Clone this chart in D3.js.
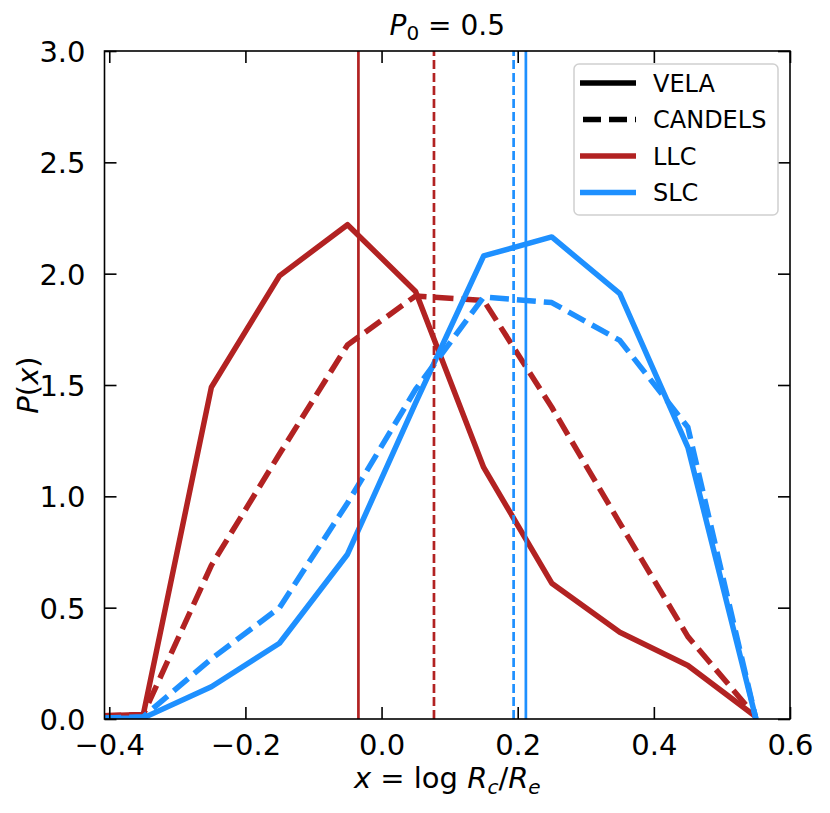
<!DOCTYPE html>
<html>
<head>
<meta charset="utf-8">
<script src="https://cdn.jsdelivr.net/npm/d3@7"></script>
<style>
  body { margin: 0; background: #fff; }
  text { font-family: "DejaVu Sans", sans-serif; fill: #000; }
</style>
</head>
<body>
<div id="chart"></div>
<script>
// bin centres of log Rc/Re
const binCenters = [-0.45, -0.35, -0.25, -0.15, -0.05, 0.05, 0.15, 0.25, 0.35, 0.45, 0.55];

// P(x)
const velaLLC = [0.01, 0.02, 1.49, 1.99, 2.22, 1.92, 1.13, 0.61, 0.39, 0.24, 0.01];
const candelsLLC = [0.01, 0.02, 0.69, 1.19, 1.68, 1.90, 1.88, 1.40, 0.88, 0.37, 0.01];
const velaSLC = [0.0, 0.005, 0.145, 0.34, 0.74, 1.42, 2.08, 2.165, 1.91, 1.22, 0.0];
const candelsSLC = [0.0, 0.01, 0.27, 0.5, 0.97, 1.48, 1.895, 1.87, 1.7, 1.31, 0.0];

// mean values (vertical lines)
const meanVelaLLC = -0.034;
const meanCandelsLLC = 0.077;
const meanCandelsSLC = 0.194;
const meanVelaSLC = 0.212;

const xTicks = [-0.4, -0.2, 0.0, 0.2, 0.4, 0.6];
const yTicks = [0.0, 0.5, 1.0, 1.5, 2.0, 2.5, 3.0];

const RED = '#b22222';
const BLUE = '#1e90ff';

const width = 830;
const height = 813;
const margin = { left: 104.5, right: 40, top: 51, bottom: 94 };

const svg = d3.select('#chart')
  .append('svg')
  .attr('width', width)
  .attr('height', height);

const x = d3.scaleLinear()
  .domain([-0.407, 0.6])
  .range([margin.left, width - margin.right]);

const y = d3.scaleLinear()
  .domain([0, 3])
  .range([height - margin.bottom, margin.top]);

svg.append('clipPath')
  .attr('id', 'plot-clip')
  .append('rect')
  .attr('x', margin.left)
  .attr('y', margin.top)
  .attr('width', width - margin.left - margin.right)
  .attr('height', height - margin.top - margin.bottom);

const plot = svg.append('g').attr('clip-path', 'url(#plot-clip)');

const line = d3.line()
  .x((d, i) => x(binCenters[i]))
  .y((d) => y(d));

// curves: [values, colour, dashed]
const curves = [
  [velaLLC, RED, false],
  [candelsLLC, RED, true],
  [velaSLC, BLUE, false],
  [candelsSLC, BLUE, true],
];

curves.forEach(([vals, color, dashed]) => {
  plot.append('path')
    .datum(vals)
    .attr('d', line)
    .attr('fill', 'none')
    .attr('stroke', color)
    .attr('stroke-width', 5.5)
    .attr('stroke-linejoin', 'round')
    .attr('stroke-dasharray', dashed ? '19,8' : null);
});

const means = [
  [meanVelaLLC, RED, false],
  [meanCandelsLLC, RED, true],
  [meanVelaSLC, BLUE, false],
  [meanCandelsSLC, BLUE, true],
];

means.forEach(([m, color, dashed]) => {
  plot.append('line')
    .attr('x1', x(m))
    .attr('x2', x(m))
    .attr('y1', y(0))
    .attr('y2', y(3))
    .attr('stroke', color)
    .attr('stroke-width', 2.7)
    .attr('stroke-dasharray', dashed ? '9,4' : null);
});

// axes with inward ticks on all four sides
const tickLen = 12;
const fmt = (v) => d3.format('.1f')(v).replace('-', '\u2212');

const xAxisBottom = d3.axisBottom(x).tickValues(xTicks).tickSizeInner(-tickLen).tickSizeOuter(0).tickPadding(tickLen + 3).tickFormat(fmt);
const xAxisTop = d3.axisTop(x).tickValues(xTicks).tickSizeInner(-tickLen).tickSizeOuter(0).tickFormat('');
const yAxisLeft = d3.axisLeft(y).tickValues(yTicks).tickSizeInner(-tickLen).tickSizeOuter(0).tickPadding(tickLen + 7).tickFormat(fmt);
const yAxisRight = d3.axisRight(y).tickValues(yTicks).tickSizeInner(-tickLen).tickSizeOuter(0).tickFormat('');

const styleAxis = (g) => {
  g.select('.domain').remove();
  g.selectAll('.tick line').attr('stroke', '#000').attr('stroke-width', 1.6);
  g.selectAll('.tick text').style('font-size', '29px').style('font-family', '"DejaVu Sans", sans-serif').attr('fill', '#000');
};

const gxb = svg.append('g').attr('transform', `translate(0,${y(0)})`).call(xAxisBottom).call(styleAxis);
svg.append('g').attr('transform', `translate(0,${y(3)})`).call(xAxisTop).call(styleAxis);
const gyl = svg.append('g').attr('transform', `translate(${x.range()[0]},0)`).call(yAxisLeft).call(styleAxis);
svg.append('g').attr('transform', `translate(${x.range()[1]},0)`).call(yAxisRight).call(styleAxis);

gxb.selectAll('.tick text').attr('dy', '0.71em');
gyl.selectAll('.tick text').attr('dy', '0.36em');

// frame
svg.append('rect')
  .attr('x', margin.left)
  .attr('y', margin.top)
  .attr('width', width - margin.left - margin.right)
  .attr('height', height - margin.top - margin.bottom)
  .attr('fill', 'none')
  .attr('stroke', '#000')
  .attr('stroke-width', 1.6);

// title
const title = svg.append('text')
  .attr('x', (margin.left + width - margin.right) / 2)
  .attr('y', 35)
  .attr('text-anchor', 'middle')
  .style('font-size', '28px');
title.append('tspan').style('font-style', 'italic').text('P');
title.append('tspan').attr('dy', 5).style('font-size', '20px').text('0');
title.append('tspan').attr('dy', -5).text(' = 0.5');

// x label
const xLabel = svg.append('text')
  .attr('x', (margin.left + width - margin.right) / 2)
  .attr('y', 788)
  .attr('text-anchor', 'middle')
  .style('font-size', '29px');
xLabel.append('tspan').style('font-style', 'italic').text('x');
xLabel.append('tspan').text(' = log ');
xLabel.append('tspan').style('font-style', 'italic').text('R');
xLabel.append('tspan').attr('dy', 6).style('font-style', 'italic').style('font-size', '20px').text('c');
xLabel.append('tspan').attr('dy', -6).text('/');
xLabel.append('tspan').style('font-style', 'italic').text('R');
xLabel.append('tspan').attr('dy', 6).style('font-style', 'italic').style('font-size', '20px').text('e');

// y label
const yLabel = svg.append('text')
  .attr('transform', `translate(38,${(margin.top + height - margin.bottom) / 2}) rotate(-90)`)
  .attr('text-anchor', 'middle')
  .style('font-size', '29px');
yLabel.append('tspan').style('font-style', 'italic').text('P');
yLabel.append('tspan').text('(');
yLabel.append('tspan').style('font-style', 'italic').text('x');
yLabel.append('tspan').text(')');

// legend
const legendItems = [
  ['VELA', '#000', false],
  ['CANDELS', '#000', true],
  ['LLC', RED, false],
  ['SLC', BLUE, false],
];

const legend = svg.append('g').attr('transform', 'translate(574,64)');
legend.append('rect')
  .attr('width', 204)
  .attr('height', 151)
  .attr('rx', 5)
  .attr('fill', '#fff')
  .attr('fill-opacity', 0.8)
  .attr('stroke', '#d0d0d0')
  .attr('stroke-width', 1.5);

legendItems.forEach(([label, color, dashed], i) => {
  const cy = 19 + i * 36.5;
  legend.append('line')
    .attr('x1', 6)
    .attr('x2', 62)
    .attr('y1', cy)
    .attr('y2', cy)
    .attr('stroke', color)
    .attr('stroke-width', 5.5)
    .attr('stroke-dasharray', dashed ? '18,8' : null)
    .attr('stroke-dashoffset', dashed ? -3 : null);
  legend.append('text')
    .attr('x', 79)
    .attr('y', cy)
    .attr('dy', '0.36em')
    .style('font-size', '24px')
    .text(label);
});
</script>
</body>
</html>
